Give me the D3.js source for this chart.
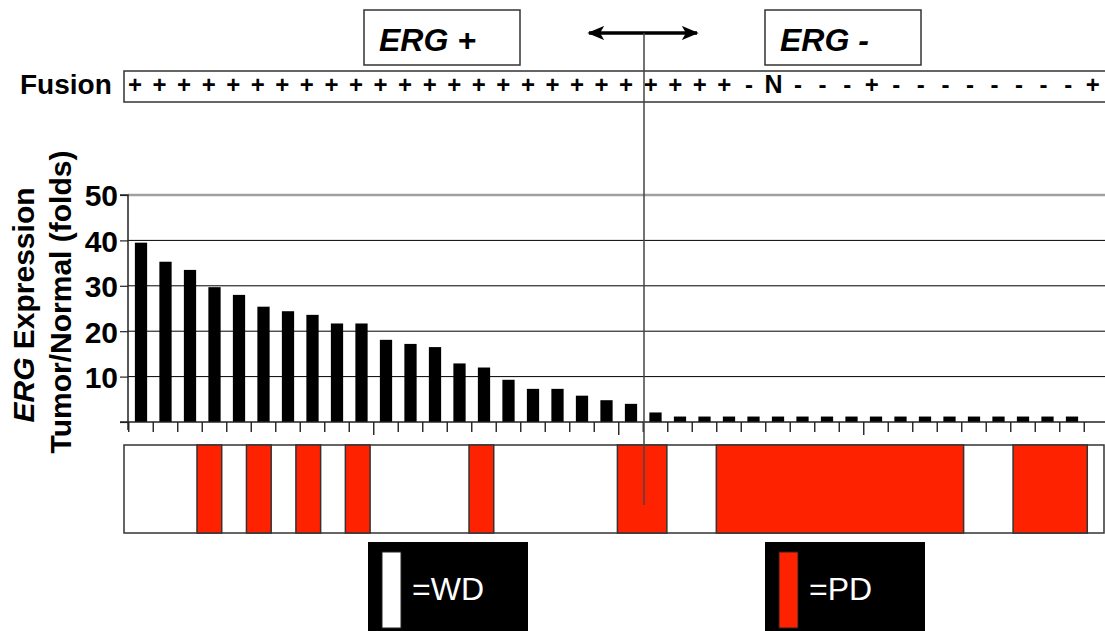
<!DOCTYPE html>
<html>
<head>
<meta charset="utf-8">
<script src="https://cdn.jsdelivr.net/npm/d3@7"></script>
<style>
  html, body { margin: 0; padding: 0; background: #fff; }
  svg { display: block; font-family: "Liberation Sans", Arial, sans-serif; }
</style>
</head>
<body>
<svg id="chart" width="1105" height="631"></svg>
<script>
// ---- data ----
const barValues = [39.5, 35.3, 33.5, 29.7, 28.0, 25.4, 24.4, 23.6, 21.7, 21.7,
  18.1, 17.2, 16.5, 12.9, 12.0, 9.3, 7.3, 7.3, 5.8, 4.8, 4.0, 2.1,
  1.2, 1.2, 1.2, 1.2, 1.2, 1.2, 1.2, 1.2, 1.2, 1.2, 1.2, 1.2, 1.2, 1.2, 1.2, 1.2, 1.2];
const fusion = ["+","+","+","+","+","+","+","+","+","+",
  "+","+","+","+","+","+","+","+","+","+",
  "+","+","+","+","+","-","N","-","-","-",
  "+","-","-","-","-","-","-","-","-","+"];
const pathology = ["WD","WD","WD","PD","WD","PD","WD","PD","WD","PD",
  "WD","WD","WD","WD","PD","WD","WD","WD","WD","WD",
  "PD","PD","WD","WD","PD","PD","PD","PD","PD","PD",
  "PD","PD","PD","PD","WD","WD","PD","PD","PD","WD"];
const yTicks = [10, 20, 30, 40, 50];
const groupLabels = ["ERG +", "ERG -"];
const legendItems = [{key: "WD", label: "=WD"}, {key: "PD", label: "=PD"}];
const colors = {WD: "#ffffff", PD: "#ff2200"};

// ---- setup ----
const svg = d3.select("#chart");
const FONT = "'Liberation Sans', Arial, sans-serif";

const y = d3.scaleLinear().domain([0, 50]).range([422, 195]);
const xBar = d3.scaleBand().domain(d3.range(barValues.length))
  .range([128.75, 1084.25]).paddingInner(0.5).paddingOuter(0.25);
const xFusion = d3.scaleBand().domain(d3.range(fusion.length)).range([122.7, 1105]);
const xStrip = d3.scaleBand().domain(d3.range(pathology.length)).range([122.8, 1112]);

// ---- gridlines ----
svg.append("g").selectAll("line").data(yTicks).join("line")
  .attr("x1", 128).attr("x2", 1105)
  .attr("y1", d => y(d)).attr("y2", d => y(d))
  .attr("stroke", d => d === 50 ? "#a0a0a0" : "#000")
  .attr("stroke-width", d => d === 50 ? 2.5 : 1);

// ---- bars ----
svg.append("g").selectAll("rect").data(barValues).join("rect")
  .attr("x", (d, i) => xBar(i))
  .attr("width", xBar.bandwidth())
  .attr("y", d => y(d))
  .attr("height", d => y(0) - y(d))
  .attr("fill", "#000");

// baseline
svg.append("line").attr("x1", 120).attr("x2", 1105)
  .attr("y1", y(0)).attr("y2", y(0)).attr("stroke", "#222").attr("stroke-width", 1.5);

// y axis
const yAxis = d3.axisLeft(y).tickValues([0].concat(yTicks)).tickSize(8)
  .tickFormat(d => d === 0 ? "" : d);
const gy = svg.append("g").attr("transform", "translate(128,0)").call(yAxis);
gy.select(".domain").attr("stroke", "#222").attr("stroke-width", 1.5)
  .attr("d", `M-8,${y(50)}H0V${y(0) + 8}`);
gy.selectAll(".tick line").attr("stroke", "#222").attr("stroke-width", 1.2);
gy.selectAll(".tick text").attr("x", -10).attr("dy", "0.36em")
  .style("font-family", FONT).style("font-size", "30px").style("font-weight", "bold")
  .attr("fill", "#000");

// x ticks at band boundaries
const step = xBar.step();
const x0 = xBar.range()[0];
svg.append("g").selectAll("line").data(d3.range(barValues.length + 1)).join("line")
  .attr("x1", i => x0 + i * step).attr("x2", i => x0 + i * step)
  .attr("y1", y(0)).attr("y2", i => y(0) + (i % 10 === 0 && i > 0 ? 13 : 10))
  .attr("stroke", "#222").attr("stroke-width", 1.4);

// y title
const yt = svg.append("text").attr("transform", "translate(23,305) rotate(-90)")
  .attr("text-anchor", "middle").attr("dy", "0.36em")
  .style("font-size", "30px").style("font-weight", "bold");
yt.append("tspan").style("font-style", "italic").text("ERG");
yt.append("tspan").text(" Expression");
svg.append("text").attr("transform", "translate(60,302) rotate(-90)")
  .attr("text-anchor", "middle").attr("dy", "0.36em")
  .style("font-size", "30px").style("font-weight", "bold")
  .text("Tumor/Normal (folds)");

// ---- fusion row ----
svg.append("rect").attr("x", 124).attr("y", 71).attr("width", 990).attr("height", 31)
  .attr("fill", "#fff").attr("stroke", "#333").attr("stroke-width", 1.5);
svg.append("g").selectAll("text").data(fusion).join("text")
  .attr("x", (d, i) => xFusion(i) + xFusion.bandwidth() / 2)
  .attr("y", 93)
  .attr("text-anchor", "middle")
  .style("font-size", d => d === "N" ? "25px" : "24px")
  .style("font-weight", "bold")
  .text(d => d);
svg.append("text").attr("x", 20).attr("y", 94)
  .style("font-size", "28px").style("font-weight", "bold").text("Fusion");

// ---- pathology strip ----
svg.append("rect").attr("x", 124).attr("y", 445).attr("width", 980).attr("height", 88)
  .attr("fill", "#fff").attr("stroke", "#333").attr("stroke-width", 1.5);
const runs = [];
pathology.forEach((p, i) => {
  const last = runs[runs.length - 1];
  if (last && last.key === p && last.end === i - 1) last.end = i;
  else runs.push({key: p, start: i, end: i});
});
svg.append("g").selectAll("rect").data(runs.filter(r => r.key === "PD")).join("rect")
  .attr("x", r => xStrip(r.start))
  .attr("width", r => xStrip(r.end) + xStrip.bandwidth() - xStrip(r.start))
  .attr("y", 445).attr("height", 88)
  .attr("fill", r => colors[r.key]).attr("stroke", "#333").attr("stroke-width", 1.5);

// ---- group labels & arrow ----
const gl = svg.append("g").selectAll("g").data(groupLabels).join("g")
  .attr("transform", (d, i) => `translate(${i === 0 ? 364 : 765},10)`);
gl.append("rect").attr("width", 156).attr("height", 55)
  .attr("fill", "#fff").attr("stroke", "#333").attr("stroke-width", 1.5);
gl.append("text").attr("x", 15).attr("y", 41)
  .style("font-size", "32px").style("font-weight", "bold").style("font-style", "italic")
  .text(d => d);

const defs = svg.append("defs");
["start", "end"].forEach(k => {
  defs.append("marker").attr("id", "ah-" + k)
    .attr("viewBox", "0 0 10 10").attr("refX", 9).attr("refY", 5)
    .attr("markerWidth", 5).attr("markerHeight", 4.2)
    .attr("markerUnits", "strokeWidth")
    .attr("preserveAspectRatio", "none")
    .attr("orient", k === "start" ? "auto-start-reverse" : "auto")
    .append("path").attr("d", "M0,0L10,5L0,10L2.5,5z").attr("fill", "#000");
});
svg.append("line").attr("x1", 589).attr("x2", 697).attr("y1", 33).attr("y2", 33)
  .attr("stroke", "#000").attr("stroke-width", 3.4)
  .attr("marker-start", "url(#ah-start)").attr("marker-end", "url(#ah-end)");

// divider line
svg.append("line").attr("x1", 644).attr("x2", 644).attr("y1", 33).attr("y2", 505)
  .attr("stroke", "#444").attr("stroke-width", 1.5);

// ---- legend ----
const lg = svg.append("g").selectAll("g").data(legendItems).join("g")
  .attr("transform", (d, i) => `translate(${i === 0 ? 368 : 765},542)`);
lg.append("rect").attr("width", 160).attr("height", 95).attr("fill", "#000");
lg.append("rect").attr("x", 14).attr("y", 10).attr("width", 19).attr("height", 76)
  .attr("fill", d => colors[d.key]).attr("stroke", "#222").attr("stroke-width", 1);
lg.append("text").attr("x", 44).attr("y", 58)
  .style("font-size", "32px").attr("fill", "#fff").text(d => d.label);
</script>
</body>
</html>
